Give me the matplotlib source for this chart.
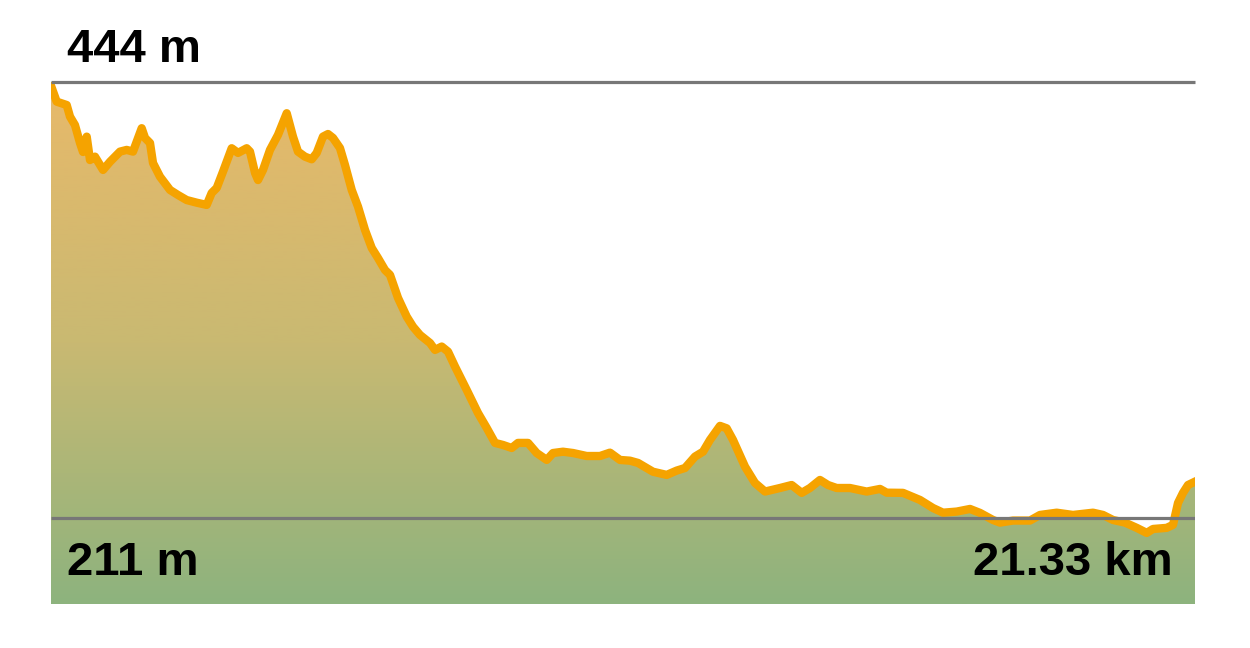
import numpy as np
import matplotlib
matplotlib.use("Agg")
import matplotlib.pyplot as plt
from matplotlib.colors import LinearSegmentedColormap

# distance along the track (km) and elevation (m)
dist_km = [0.0, 0.106, 0.20, 0.293, 0.354, 0.447, 0.541, 0.597, 0.666, 0.727,
           0.820, 0.970, 1.101, 1.287, 1.411, 1.529, 1.691, 1.753, 1.846, 1.902,
           2.032, 2.219, 2.368, 2.530, 2.717, 2.903, 2.996, 3.090, 3.207, 3.369,
           3.487, 3.649, 3.710, 3.804, 3.860, 3.953, 4.083, 4.232, 4.395, 4.512,
           4.605, 4.735, 4.861, 4.954, 5.071, 5.165, 5.258, 5.388, 5.482, 5.607,
           5.724, 5.855, 5.980, 6.097, 6.228, 6.321, 6.470, 6.632, 6.750, 6.880,
           7.067, 7.160, 7.285, 7.402, 7.533, 7.751, 7.961, 8.124, 8.279, 8.428,
           8.590, 8.707, 8.894, 9.056, 9.243, 9.360, 9.546, 9.733, 9.988, 10.236,
           10.422, 10.609, 10.795, 10.945, 11.224, 11.480, 11.666, 11.821, 12.008, 12.157,
           12.287, 12.474, 12.598, 12.716, 12.940, 13.126, 13.313, 13.592, 13.810, 13.997,
           14.151, 14.337, 14.487, 14.649, 14.897, 15.209, 15.457, 15.582, 15.886, 16.203,
           16.445, 16.632, 16.887, 17.135, 17.321, 17.564, 17.694, 17.937, 18.253, 18.440,
           18.751, 19.055, 19.428, 19.615, 19.801, 20.025, 20.243, 20.430, 20.547, 20.802,
           20.920, 21.013, 21.106, 21.200, 21.33]
elev_m = [442.0, 433.5, 432.6, 431.7, 425.5, 421.0, 411.4, 406.6, 414.8, 402.3,
          404.1, 397.0, 401.4, 406.8, 407.7, 406.8, 419.3, 414.1, 411.4, 400.7,
          393.4, 386.3, 383.6, 380.9, 379.5, 378.3, 384.7, 387.4, 396.1, 408.6,
          406.1, 408.6, 406.8, 395.4, 391.6, 397.0, 407.7, 415.7, 427.3, 414.8,
          406.8, 404.1, 402.7, 406.1, 414.8, 416.2, 414.1, 408.7, 399.6, 386.3,
          377.4, 364.9, 355.3, 349.9, 343.5, 340.9, 328.6, 318.6, 313.2, 308.8,
          304.5, 300.8, 302.6, 299.9, 291.9, 279.4, 267.1, 259.1, 251.1, 250.0,
          248.4, 251.1, 251.1, 245.7, 242.0, 245.7, 246.4, 245.7, 244.1, 244.1,
          245.9, 242.0, 241.6, 240.4, 235.7, 234.0, 236.3, 237.7, 243.8, 246.4,
          252.7, 260.2, 258.9, 252.7, 238.4, 229.7, 225.1, 227.0, 228.6, 224.4,
          227.0, 231.3, 228.6, 227.0, 227.0, 225.1, 226.5, 224.5, 224.4, 220.6,
          216.3, 213.8, 214.4, 215.8, 213.7, 209.9, 208.5, 209.6, 209.6, 212.6,
          213.8, 212.6, 213.8, 212.6, 209.9, 208.5, 205.7, 203.0, 205.1, 205.7,
          207.3, 219.0, 224.4, 228.6, 230.4]

max_label = "444 m"
min_label = "211 m"
dist_label = "21.33 km"
top_ref = 444
bottom_ref = 211
total_km = 21.33

plt.rcParams['font.family'] = ['Liberation Sans', 'DejaVu Sans']

fig = plt.figure(figsize=(12.5, 6.48), dpi=100)
ax = fig.add_axes([51 / 1250, 1 - 604 / 648, 1144 / 1250, 522 / 648])
ymin, ymax = 165, 444
ax.set_xlim(0, total_km)
ax.set_ylim(ymin, ymax)
ax.axis("off")

x = np.array(dist_km)
y = np.array(elev_m)

# gradient fill under the profile
cmap = LinearSegmentedColormap.from_list("elev", ["#E8B96A", "#C9B972", "#8DB37E"])
grad = np.linspace(0, 1, 256).reshape(-1, 1)
img = ax.imshow(grad, cmap=cmap, aspect="auto", extent=[0, total_km, ymin, ymax],
                origin="upper", zorder=1)
poly = ax.fill_between(x, y, ymin, color="none", lw=0)
path = poly.get_paths()[0]
img.set_clip_path(path, transform=ax.transData)

ax.plot(x, y, color="#F5A300", lw=6, solid_joinstyle="round", zorder=2)

# reference lines at max and min elevation
ax.plot([0, total_km], [top_ref, top_ref], color="#777777", lw=2.3,
        solid_capstyle="butt", zorder=3, clip_on=False)
ax.plot([0, total_km], [bottom_ref, bottom_ref], color="#777777", lw=2.3,
        solid_capstyle="butt", zorder=3)

ax.text(67 / 1250, 1 - 62 / 648, max_label, transform=fig.transFigure,
        fontsize=34, fontweight="bold", color="black", ha="left", va="baseline")
ax.text(67 / 1250, 1 - 575 / 648, min_label, transform=fig.transFigure,
        fontsize=34, fontweight="bold", color="black", ha="left", va="baseline")
ax.text(1173 / 1250, 1 - 575 / 648, dist_label, transform=fig.transFigure,
        fontsize=34, fontweight="bold", color="black", ha="right", va="baseline")

fig.savefig("out.png", dpi=100)
